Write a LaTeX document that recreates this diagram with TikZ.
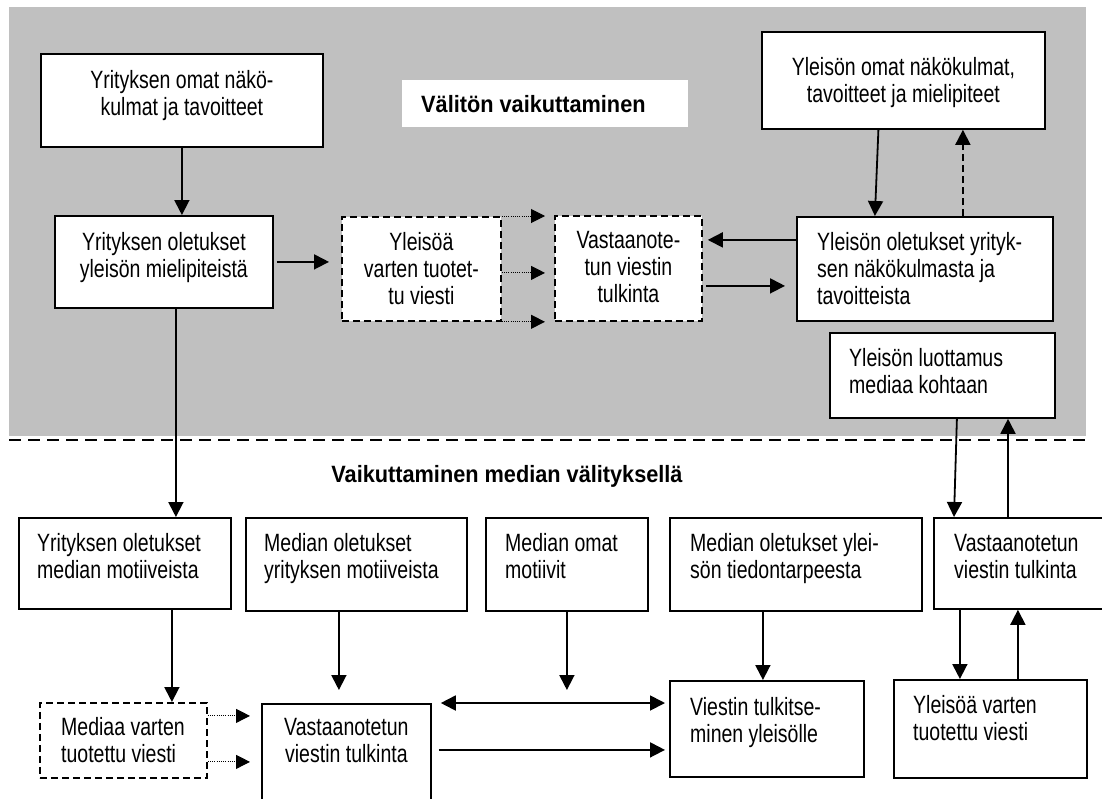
\documentclass[tikz,border=0pt]{standalone}
\usepackage{fontspec}
\setmainfont{Liberation Sans}[FakeStretch=0.78]
\newfontfamily\headfont{Liberation Sans}[FakeStretch=0.92]
\usetikzlibrary{arrows.meta,calc}
\definecolor{panelgray}{RGB}{192,192,192}
\tikzset{
  box/.style={draw, line width=1.8pt, fill=white, inner sep=0pt, anchor=north west},
  dbox/.style={box, dash pattern=on 7pt off 4pt},
  lbl/.style={font=\fontsize{25}{27}\selectfont, inner sep=0pt,
    execute at begin node=\strut, execute at end node=\strut},
  ctext/.style={lbl, align=center},
  ltext/.style={lbl, align=left, anchor=west},
  heading/.style={font=\headfont\bfseries\fontsize{23.6}{26}\selectfont, inner sep=0pt},
  arr/.style={line width=1.8pt, -{Triangle[length=15pt,width=15pt]}},
  darr/.style={arr, dash pattern=on 7pt off 4pt},
  dotarr/.style={line width=1pt, dash pattern=on 1pt off 1.2pt, -{Triangle[length=14pt,width=14pt]}},
  dblarr/.style={line width=1.8pt, {Triangle[length=15pt,width=15pt]}-{Triangle[length=15pt,width=15pt]}},
}
% box with given corners: style, x1, y1, x2, y2, name
\newcommand\boxat[6]{\node[#1, minimum width={#4pt-#2pt}, minimum height={#5pt-#3pt}] (#6) at (#2,#3) {};}
\begin{document}
\begin{tikzpicture}[x=1pt,y=-1pt]
\useasboundingbox (0,0) rectangle (1102,798);
\clip (0,0) rectangle (1102,798);
\fill[white] (0,0) rectangle (1102,798);
% upper panel: direct influence
\fill[panelgray] (9,7) rectangle (1086,436);
\draw[line width=2pt, dash pattern=on 12pt off 7pt] (9,440) -- (1086,440);

% headings
\node[fill=white, minimum width=286pt, minimum height=47pt, anchor=north west, inner sep=0pt] (h1) at (402,80) {};
\node[heading, anchor=west] at ([xshift=19pt]h1.west) {Välitön vaikuttaminen};
\node[heading] (h2) at (507,476) {Vaikuttaminen median välityksellä};

% upper boxes
\boxat{box}{40}{53}{322}{146}{A}
\boxat{box}{54}{215}{272}{307}{B}
\boxat{dbox}{341}{216}{500}{320}{C}
\boxat{dbox}{554}{215}{701}{320}{D}
\boxat{box}{761}{31}{1044}{128}{E}
\boxat{box}{796}{216}{1052}{320}{F}
\boxat{box}{829}{332}{1054}{417}{G}

% lower boxes
\boxat{box}{18}{517}{230}{608}{I}
\boxat{box}{245}{517}{466}{610}{J}
\boxat{box}{485}{517}{647}{610}{K}
\boxat{box}{669}{517}{921}{610}{L}
\boxat{box}{933}{517}{1120}{608}{H}
\boxat{dbox}{39}{702}{206}{777}{M}
\boxat{box}{261}{703}{430}{820}{N}
\boxat{box}{669}{680}{863}{776}{O}
\boxat{box}{893}{679}{1086}{777}{P}

% texts
\node[ctext] at ([yshift=3.5pt]A.center) {Yrityksen omat näkö-\\kulmat ja tavoitteet};
\node[ctext] at ([yshift=3pt]B.center) {Yrityksen oletukset\\yleisön mielipiteistä};
\node[ctext] at ([yshift=-4pt]C.center) {Yleisöä\\varten tuotet-\\tu viesti};
\node[ctext] at ([yshift=-2.5pt]D.center) {Vastaanote-\\tun viestin\\tulkinta};
\node[ctext] at ([yshift=-4pt]E.center) {Yleisön omat näkökulmat,\\tavoitteet ja mielipiteet};
\node[ltext] at ([xshift=21pt,yshift=-4pt]F.west) {Yleisön oletukset yrityk-\\sen näkökulmasta ja\\tavoitteista};
\node[ltext] at ([xshift=20pt]G.west) {Yleisön luottamus\\mediaa kohtaan};
\node[ltext] at ([xshift=19pt,yshift=3pt]I.west) {Yrityksen oletukset\\median motiiveista};
\node[ltext] at ([xshift=19pt,yshift=4pt]J.west) {Median oletukset\\yrityksen motiiveista};
\node[ltext] at ([xshift=20pt,yshift=4pt]K.west) {Median omat\\motiivit};
\node[ltext] at ([xshift=21pt,yshift=4pt]L.west) {Median oletukset ylei-\\sön tiedontarpeesta};
\node[ltext] at ([xshift=21pt,yshift=3pt]H.west) {Vastaanotetun\\viestin tulkinta};
\node[ltext] at ([xshift=22pt,yshift=-4pt]M.west) {Mediaa varten\\tuotettu viesti};
\node[ctext] at ([yshift=-41pt]N.north) {Vastaanotetun\\viestin tulkinta};
\node[ltext] at ([xshift=21pt,yshift=5.4pt]O.west) {Viestin tulkitse-\\minen yleisölle};
\node[ltext] at ([xshift=20pt,yshift=7.4pt]P.west) {Yleisöä varten\\tuotettu viesti};

% upper connectors
\draw[arr] (A.south) -- (A.south |- B.north);
\draw[arr, shorten <=3pt, shorten >=12pt] (B.east) -- (B.east -| C.west);
\draw[dotarr, shorten >=9pt] (C.north east) -- (C.north east -| D.west);
\coordinate (c1) at ([yshift=-4pt]C.east);
\draw[dotarr, shorten >=9pt] (c1) -- (c1 -| D.west);
\draw[dotarr, shorten >=9pt] (C.south east) -- (C.south east -| D.west);
\coordinate (f1) at ([yshift=29pt]F.west);
\draw[arr, shorten >=5pt] (f1) -- (f1 -| D.east);
\coordinate (f2) at ([yshift=-17pt]F.west);
\draw[arr, shorten <=3pt, shorten >=11pt] (f2 -| D.east) -- (f2);
\draw[arr] ([xshift=-25pt]E.south) -- ([xshift=-50pt]F.north);
\coordinate (f3) at ([xshift=38pt]F.north);
\draw[darr] (f3) -- (f3 |- E.south);

% links between the panels
\coordinate (b1) at ([xshift=12pt]B.south);
\draw[arr] (b1) -- (b1 |- I.north);
\draw[arr] ([xshift=14.5pt]G.south) -- ([xshift=21pt]H.north west);
\coordinate (h3) at ([xshift=75pt]H.north west);
\draw[arr] (h3) -- (h3 |- G.south);

% lower connectors
\draw[arr] ([xshift=47pt]I.south) -- ([xshift=48.5pt]M.north);
\coordinate (j1) at ([xshift=-17.5pt]J.south);
\draw[arr, shorten >=13pt] (j1) -- (j1 |- N.north);
\draw[arr, shorten >=13pt] (K.south) -- (K.south |- N.north);
\draw[dblarr, shorten <=9pt, shorten >=4pt] (N.north east) -- (N.north east -| O.west);
\coordinate (o1) at ([yshift=-21pt]O.west);
\draw[arr, shorten <=7pt, shorten >=4pt] (o1 -| N.east) -- (o1);
\coordinate (o2) at ([xshift=-4pt]O.north);
\draw[arr] (o2 |- L.south) -- (o2);
\coordinate (p1) at ([xshift=-30.5pt]P.north);
\draw[arr] (p1 |- H.south) -- (p1);
\coordinate (p2) at ([xshift=27.5pt]P.north);
\draw[arr] (p2) -- (p2 |- H.south);
\coordinate (m1) at ([yshift=24.5pt]M.east);
\draw[dotarr, shorten >=11pt] (m1) -- (m1 -| N.west);
\coordinate (m2) at ([yshift=-21.5pt]M.east);
\draw[dotarr, shorten >=11pt] (m2) -- (m2 -| N.west);
\end{tikzpicture}
\end{document}
